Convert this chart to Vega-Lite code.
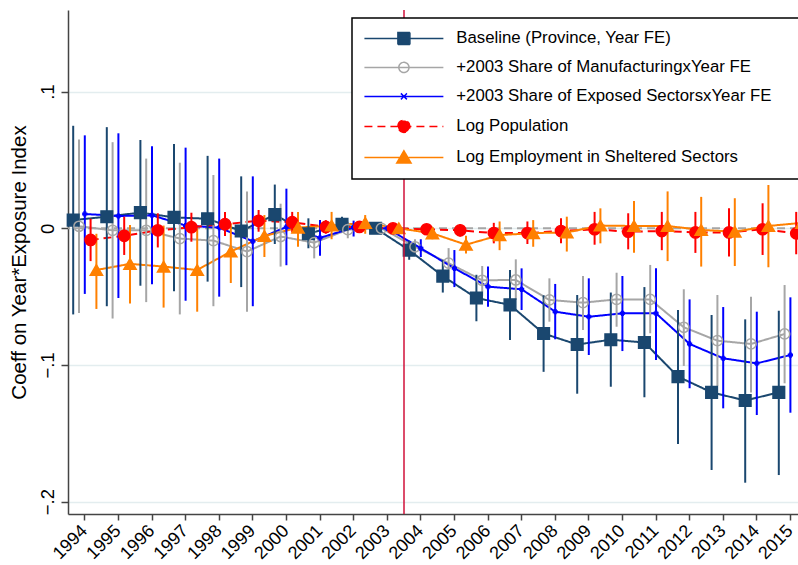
{
  "$schema": "https://vega.github.io/schema/vega-lite/v6.json",
  "width": 730,
  "height": 504,
  "autosize": {"type": "none"},
  "padding": {"left": 68, "top": 10, "right": 0, "bottom": 51},
  "config": {
    "font": "Liberation Sans",
    "view": {"stroke": null},
    "axis": {"labelColor": "black", "titleColor": "black", "domainColor": "#444", "tickColor": "#444", "domainWidth": 1.5, "tickWidth": 1.5},
    "axisX": {"labelAngle": -45, "labelAlign": "right", "labelBaseline": "middle", "labelFontSize": 18, "tickSize": 6, "labelPadding": 8, "labelOverlap": false, "grid": false, "title": null},
    "axisY": {"labelAngle": -90, "labelAlign": "center", "labelBaseline": "bottom", "labelFontSize": 18.5, "labelPadding": 4, "tickSize": 7, "titleFontSize": 20.5, "titleFontWeight": "normal", "titlePadding": 9, "grid": true, "gridColor": "#e3edef", "gridWidth": 1.5}
  },
  "data": {
    "values": [
      {"year": 1994, "series": "Baseline (Province, Year FE)", "est": 0.006, "lo": -0.063, "hi": 0.075},
      {"year": 1995, "series": "Baseline (Province, Year FE)", "est": 0.0085, "lo": -0.057, "hi": 0.074},
      {"year": 1996, "series": "Baseline (Province, Year FE)", "est": 0.0115, "lo": -0.042, "hi": 0.0646},
      {"year": 1997, "series": "Baseline (Province, Year FE)", "est": 0.008, "lo": -0.046, "hi": 0.0617},
      {"year": 1998, "series": "Baseline (Province, Year FE)", "est": 0.007, "lo": -0.039, "hi": 0.053},
      {"year": 1999, "series": "Baseline (Province, Year FE)", "est": -0.002, "lo": -0.043, "hi": 0.038},
      {"year": 2000, "series": "Baseline (Province, Year FE)", "est": 0.010, "lo": -0.0115, "hi": 0.032},
      {"year": 2001, "series": "Baseline (Province, Year FE)", "est": -0.004, "lo": -0.0146, "hi": 0.0073},
      {"year": 2002, "series": "Baseline (Province, Year FE)", "est": 0.003, "lo": -0.0025, "hi": 0.0085},
      {"year": 2003, "series": "Baseline (Province, Year FE)", "est": 0, "lo": 0, "hi": 0},
      {"year": 2004, "series": "Baseline (Province, Year FE)", "est": -0.016, "lo": -0.023, "hi": -0.009},
      {"year": 2005, "series": "Baseline (Province, Year FE)", "est": -0.035, "lo": -0.047, "hi": -0.023},
      {"year": 2006, "series": "Baseline (Province, Year FE)", "est": -0.051, "lo": -0.068, "hi": -0.034},
      {"year": 2007, "series": "Baseline (Province, Year FE)", "est": -0.056, "lo": -0.0817, "hi": -0.0305},
      {"year": 2008, "series": "Baseline (Province, Year FE)", "est": -0.077, "lo": -0.105, "hi": -0.049},
      {"year": 2009, "series": "Baseline (Province, Year FE)", "est": -0.085, "lo": -0.121, "hi": -0.0488},
      {"year": 2010, "series": "Baseline (Province, Year FE)", "est": -0.0815, "lo": -0.1159, "hi": -0.047},
      {"year": 2011, "series": "Baseline (Province, Year FE)", "est": -0.0835, "lo": -0.1236, "hi": -0.043},
      {"year": 2012, "series": "Baseline (Province, Year FE)", "est": -0.1085, "lo": -0.1578, "hi": -0.0598},
      {"year": 2013, "series": "Baseline (Province, Year FE)", "est": -0.120, "lo": -0.1768, "hi": -0.0634},
      {"year": 2014, "series": "Baseline (Province, Year FE)", "est": -0.126, "lo": -0.1861, "hi": -0.0666},
      {"year": 2015, "series": "Baseline (Province, Year FE)", "est": -0.120, "lo": -0.1805, "hi": -0.0603},
      {"year": 1994, "series": "+2003 Share of ManufacturingxYear FE", "est": 0.0015, "lo": -0.062, "hi": 0.065},
      {"year": 1995, "series": "+2003 Share of ManufacturingxYear FE", "est": -0.0015, "lo": -0.066, "hi": 0.063},
      {"year": 1996, "series": "+2003 Share of ManufacturingxYear FE", "est": -0.0015, "lo": -0.054, "hi": 0.051},
      {"year": 1997, "series": "+2003 Share of ManufacturingxYear FE", "est": -0.0075, "lo": -0.063, "hi": 0.048},
      {"year": 1998, "series": "+2003 Share of ManufacturingxYear FE", "est": -0.009, "lo": -0.057, "hi": 0.039},
      {"year": 1999, "series": "+2003 Share of ManufacturingxYear FE", "est": -0.017, "lo": -0.061, "hi": 0.027},
      {"year": 2000, "series": "+2003 Share of ManufacturingxYear FE", "est": -0.006, "lo": -0.028, "hi": 0.018},
      {"year": 2001, "series": "+2003 Share of ManufacturingxYear FE", "est": -0.0105, "lo": -0.022, "hi": -0.001},
      {"year": 2002, "series": "+2003 Share of ManufacturingxYear FE", "est": -0.001, "lo": -0.0073, "hi": 0.0048},
      {"year": 2003, "series": "+2003 Share of ManufacturingxYear FE", "est": 0, "lo": 0, "hi": 0},
      {"year": 2004, "series": "+2003 Share of ManufacturingxYear FE", "est": -0.0135, "lo": -0.019, "hi": -0.008},
      {"year": 2005, "series": "+2003 Share of ManufacturingxYear FE", "est": -0.0255, "lo": -0.037, "hi": -0.0145},
      {"year": 2006, "series": "+2003 Share of ManufacturingxYear FE", "est": -0.038, "lo": -0.0495, "hi": -0.0276},
      {"year": 2007, "series": "+2003 Share of ManufacturingxYear FE", "est": -0.0378, "lo": -0.0524, "hi": -0.0227},
      {"year": 2008, "series": "+2003 Share of ManufacturingxYear FE", "est": -0.0524, "lo": -0.0683, "hi": -0.0366},
      {"year": 2009, "series": "+2003 Share of ManufacturingxYear FE", "est": -0.0544, "lo": -0.0744, "hi": -0.0349},
      {"year": 2010, "series": "+2003 Share of ManufacturingxYear FE", "est": -0.052, "lo": -0.072, "hi": -0.0325},
      {"year": 2011, "series": "+2003 Share of ManufacturingxYear FE", "est": -0.052, "lo": -0.0768, "hi": -0.0268},
      {"year": 2012, "series": "+2003 Share of ManufacturingxYear FE", "est": -0.0724, "lo": -0.1007, "hi": -0.0446},
      {"year": 2013, "series": "+2003 Share of ManufacturingxYear FE", "est": -0.0822, "lo": -0.1154, "hi": -0.0488},
      {"year": 2014, "series": "+2003 Share of ManufacturingxYear FE", "est": -0.0846, "lo": -0.1202, "hi": -0.05},
      {"year": 2015, "series": "+2003 Share of ManufacturingxYear FE", "est": -0.0773, "lo": -0.1134, "hi": -0.0415},
      {"year": 1994, "series": "+2003 Share of Exposed SectorsxYear FE", "est": 0.0105, "lo": -0.048, "hi": 0.068},
      {"year": 1995, "series": "+2003 Share of Exposed SectorsxYear FE", "est": 0.009, "lo": -0.051, "hi": 0.0695},
      {"year": 1996, "series": "+2003 Share of Exposed SectorsxYear FE", "est": 0.0095, "lo": -0.041, "hi": 0.060},
      {"year": 1997, "series": "+2003 Share of Exposed SectorsxYear FE", "est": 0.002, "lo": -0.053, "hi": 0.059},
      {"year": 1998, "series": "+2003 Share of Exposed SectorsxYear FE", "est": 0.0005, "lo": -0.050, "hi": 0.051},
      {"year": 1999, "series": "+2003 Share of Exposed SectorsxYear FE", "est": -0.0095, "lo": -0.057, "hi": 0.038},
      {"year": 2000, "series": "+2003 Share of Exposed SectorsxYear FE", "est": 0.001, "lo": -0.027, "hi": 0.029},
      {"year": 2001, "series": "+2003 Share of Exposed SectorsxYear FE", "est": -0.007, "lo": -0.020, "hi": 0.006},
      {"year": 2002, "series": "+2003 Share of Exposed SectorsxYear FE", "est": 0.0005, "lo": -0.006, "hi": 0.0056},
      {"year": 2003, "series": "+2003 Share of Exposed SectorsxYear FE", "est": 0, "lo": 0, "hi": 0},
      {"year": 2004, "series": "+2003 Share of Exposed SectorsxYear FE", "est": -0.0146, "lo": -0.021, "hi": -0.008},
      {"year": 2005, "series": "+2003 Share of Exposed SectorsxYear FE", "est": -0.0293, "lo": -0.043, "hi": -0.0159},
      {"year": 2006, "series": "+2003 Share of Exposed SectorsxYear FE", "est": -0.0427, "lo": -0.0573, "hi": -0.028},
      {"year": 2007, "series": "+2003 Share of Exposed SectorsxYear FE", "est": -0.0446, "lo": -0.0598, "hi": -0.0293},
      {"year": 2008, "series": "+2003 Share of Exposed SectorsxYear FE", "est": -0.061, "lo": -0.0812, "hi": -0.0407},
      {"year": 2009, "series": "+2003 Share of Exposed SectorsxYear FE", "est": -0.0647, "lo": -0.0927, "hi": -0.0366},
      {"year": 2010, "series": "+2003 Share of Exposed SectorsxYear FE", "est": -0.0622, "lo": -0.0898, "hi": -0.0349},
      {"year": 2011, "series": "+2003 Share of Exposed SectorsxYear FE", "est": -0.0622, "lo": -0.0963, "hi": -0.0293},
      {"year": 2012, "series": "+2003 Share of Exposed SectorsxYear FE", "est": -0.0846, "lo": -0.117, "hi": -0.052},
      {"year": 2013, "series": "+2003 Share of Exposed SectorsxYear FE", "est": -0.0951, "lo": -0.1317, "hi": -0.0576},
      {"year": 2014, "series": "+2003 Share of Exposed SectorsxYear FE", "est": -0.0988, "lo": -0.1366, "hi": -0.061},
      {"year": 2015, "series": "+2003 Share of Exposed SectorsxYear FE", "est": -0.0927, "lo": -0.1349, "hi": -0.0505},
      {"year": 1994, "series": "Log Population", "est": -0.0085, "lo": -0.024, "hi": 0.007},
      {"year": 1995, "series": "Log Population", "est": -0.0055, "lo": -0.0195, "hi": 0.0085},
      {"year": 1996, "series": "Log Population", "est": -0.0015, "lo": -0.014, "hi": 0.011},
      {"year": 1997, "series": "Log Population", "est": 0.0008, "lo": -0.0098, "hi": 0.0114},
      {"year": 1998, "series": "Log Population", "est": 0.003, "lo": -0.0056, "hi": 0.012},
      {"year": 1999, "series": "Log Population", "est": 0.0055, "lo": -0.0025, "hi": 0.0134},
      {"year": 2000, "series": "Log Population", "est": 0.0045, "lo": -0.003, "hi": 0.012},
      {"year": 2001, "series": "Log Population", "est": 0.001, "lo": -0.004, "hi": 0.006},
      {"year": 2002, "series": "Log Population", "est": 0.001, "lo": -0.002, "hi": 0.004},
      {"year": 2003, "series": "Log Population", "est": 0, "lo": 0, "hi": 0},
      {"year": 2004, "series": "Log Population", "est": -0.0007, "lo": -0.004, "hi": 0.003},
      {"year": 2005, "series": "Log Population", "est": -0.0015, "lo": -0.006, "hi": 0.003},
      {"year": 2006, "series": "Log Population", "est": -0.0035, "lo": -0.011, "hi": 0.004},
      {"year": 2007, "series": "Log Population", "est": -0.0035, "lo": -0.0115, "hi": 0.005},
      {"year": 2008, "series": "Log Population", "est": -0.002, "lo": -0.011, "hi": 0.0073},
      {"year": 2009, "series": "Log Population", "est": -0.0007, "lo": -0.012, "hi": 0.012},
      {"year": 2010, "series": "Log Population", "est": -0.0025, "lo": -0.0154, "hi": 0.011},
      {"year": 2011, "series": "Log Population", "est": -0.002, "lo": -0.016, "hi": 0.012},
      {"year": 2012, "series": "Log Population", "est": -0.003, "lo": -0.018, "hi": 0.012},
      {"year": 2013, "series": "Log Population", "est": -0.003, "lo": -0.0207, "hi": 0.0146},
      {"year": 2014, "series": "Log Population", "est": -0.0007, "lo": -0.0195, "hi": 0.0183},
      {"year": 2015, "series": "Log Population", "est": -0.0037, "lo": -0.019, "hi": 0.012},
      {"year": 1994, "series": "Log Employment in Sheltered Sectors", "est": -0.0305, "lo": -0.059, "hi": -0.004},
      {"year": 1995, "series": "Log Employment in Sheltered Sectors", "est": -0.026, "lo": -0.055, "hi": 0.0024},
      {"year": 1996, "series": "Log Employment in Sheltered Sectors", "est": -0.028, "lo": -0.058, "hi": 0.002},
      {"year": 1997, "series": "Log Employment in Sheltered Sectors", "est": -0.0305, "lo": -0.061, "hi": 0.0},
      {"year": 1998, "series": "Log Employment in Sheltered Sectors", "est": -0.017, "lo": -0.040, "hi": 0.0037},
      {"year": 1999, "series": "Log Employment in Sheltered Sectors", "est": -0.0056, "lo": -0.021, "hi": 0.0097},
      {"year": 2000, "series": "Log Employment in Sheltered Sectors", "est": 0.0005, "lo": -0.0135, "hi": 0.012},
      {"year": 2001, "series": "Log Employment in Sheltered Sectors", "est": 0.002, "lo": -0.008, "hi": 0.012},
      {"year": 2002, "series": "Log Employment in Sheltered Sectors", "est": 0.004, "lo": -0.004, "hi": 0.0097},
      {"year": 2003, "series": "Log Employment in Sheltered Sectors", "est": 0, "lo": 0, "hi": 0},
      {"year": 2004, "series": "Log Employment in Sheltered Sectors", "est": -0.0037, "lo": -0.008, "hi": 0.001},
      {"year": 2005, "series": "Log Employment in Sheltered Sectors", "est": -0.012, "lo": -0.0185, "hi": -0.0055},
      {"year": 2006, "series": "Log Employment in Sheltered Sectors", "est": -0.005, "lo": -0.016, "hi": 0.005},
      {"year": 2007, "series": "Log Employment in Sheltered Sectors", "est": -0.0035, "lo": -0.0135, "hi": 0.006},
      {"year": 2008, "series": "Log Employment in Sheltered Sectors", "est": -0.003, "lo": -0.017, "hi": 0.0085},
      {"year": 2009, "series": "Log Employment in Sheltered Sectors", "est": 0.002, "lo": -0.011, "hi": 0.0146},
      {"year": 2010, "series": "Log Employment in Sheltered Sectors", "est": 0.0017, "lo": -0.0178, "hi": 0.020},
      {"year": 2011, "series": "Log Employment in Sheltered Sectors", "est": 0.0017, "lo": -0.024, "hi": 0.027},
      {"year": 2012, "series": "Log Employment in Sheltered Sectors", "est": -0.0012, "lo": -0.028, "hi": 0.023},
      {"year": 2013, "series": "Log Employment in Sheltered Sectors", "est": -0.0025, "lo": -0.0276, "hi": 0.022},
      {"year": 2014, "series": "Log Employment in Sheltered Sectors", "est": 0.0017, "lo": -0.0285, "hi": 0.0317},
      {"year": 2015, "series": "Log Employment in Sheltered Sectors", "est": 0.004, "lo": -0.024, "hi": 0.032}
    ]
  },
  "layer": [
    {
      "data": {"values": [{}]},
      "mark": {"type": "rule", "color": "#a6a6a6", "strokeWidth": 2, "strokeDash": [8, 5]},
      "encoding": {"y": {"datum": 0, "type": "quantitative", "scale": {"domain": [-0.209, 0.1597], "nice": false, "zero": false}}}
    },
    {
      "encoding": {
        "x": {
          "field": "year",
          "type": "ordinal",
          "bandPosition": 0,
          "title": null,
          "scale": {"type": "band", "range": [0, 739.2], "paddingInner": 0, "paddingOuter": 0}
        },
        "xOffset": {
          "field": "series",
          "type": "nominal",
          "scale": {
            "type": "point",
            "domain": ["Baseline (Province, Year FE)", "+2003 Share of ManufacturingxYear FE", "+2003 Share of Exposed SectorsxYear FE", "Log Population", "Log Employment in Sheltered Sectors"],
            "range": [5.2, 28.4],
            "padding": 0
          }
        },
        "y": {
          "field": "est",
          "type": "quantitative",
          "title": "Coeff on Year*Exposure Index",
          "scale": {"domain": [-0.209, 0.1597], "nice": false, "zero": false},
          "axis": {
            "values": [-0.2, -0.1, 0, 0.1],
            "labelExpr": "datum.value == 0 ? '0' : replace(format(datum.value, '.1f'), '0.', '.')"
          }
        }
      },
      "layer": [
        {
          "mark": {"type": "line", "strokeWidth": 2},
          "encoding": {
            "color": {
              "field": "series",
              "type": "nominal",
              "scale": {
                "domain": ["Baseline (Province, Year FE)", "+2003 Share of ManufacturingxYear FE", "+2003 Share of Exposed SectorsxYear FE", "Log Population", "Log Employment in Sheltered Sectors"],
                "range": ["#1a476f", "#a6a6a6", "#0000ff", "#ff0000", "#ff8000"]
              },
              "legend": {
                "orient": "none",
                "legendX": 284,
                "legendY": 8,
                "title": null,
                "strokeColor": "black",
                "fillColor": "white",
                "padding": 12,
                "labelFontSize": 16.8,
                "labelColor": "black",
                "labelLimit": 500,
                "symbolSize": 144,
                "symbolOffset": 31.5,
                "labelOffset": 44,
                "rowPadding": 11,
                "encode": {
                  "legend": {"update": {"strokeWidth": {"value": 1.5}}},
                  "symbols": {
                    "update": {
                      "shape": {"signal": "['M-6.58,0H6.58M-1,-1H1V1H-1ZM66,0h0.001', 'M-6.58,0H6.58M-0.85,0A0.85,0.85,0,1,1,0.85,0A0.85,0.85,0,1,1,-0.85,0ZM66,0h0.001', 'M-6.58,0H6.58M-0.5,-0.5L0.5,0.5M-0.5,0.5L0.5,-0.5M66,0h0.001', 'M-6.58,0H6.58M-1,0A1,1,0,1,1,1,0A1,1,0,1,1,-1,0ZM66,0h0.001', 'M-6.58,0H6.58M0,-1.1L1.2,0.95H-1.2ZM66,0h0.001'][datum.index]"},
                      "fill": {"signal": "['#1a476f', 'transparent', '#0000ff', '#ff0000', '#ff8000'][datum.index]"},
                      "stroke": {"signal": "['#1a476f', '#a6a6a6', '#0000ff', '#ff0000', '#ff8000'][datum.index]"},
                      "strokeDash": {"signal": "datum.index == 3 ? [8, 5] : [1, 0]"},
                      "strokeWidth": {"value": 1.5},
                      "size": {"value": 144},
                      "opacity": {"value": 1}
                    }
                  }
                }
              }
            },
            "strokeDash": {
              "field": "series",
              "type": "nominal",
              "legend": null,
              "scale": {"range": [[1, 0], [1, 0], [1, 0], [1, 0], [8, 5]]}
            }
          }
        },
        {
          "mark": {"type": "rule", "strokeWidth": 2},
          "encoding": {
            "y": {"field": "lo", "type": "quantitative"},
            "y2": {"field": "hi"},
            "stroke": {
              "field": "series",
              "type": "nominal",
              "legend": null,
              "scale": {"range": ["#0000ff", "#a6a6a6", "#1a476f", "#ff8000", "#ff0000"]}
            }
          }
        },
        {
          "mark": {"type": "point", "strokeWidth": 1.5, "opacity": 1},
          "encoding": {
            "shape": {
              "field": "series",
              "type": "nominal",
              "legend": null,
              "scale": {"range": ["cross", "circle", "square", "triangle-up", "circle"]}
            },
            "size": {
              "field": "series",
              "type": "nominal",
              "legend": null,
              "scale": {"type": "ordinal", "range": [14, 105, 135, 150, 125]}
            },
            "fill": {
              "field": "series",
              "type": "nominal",
              "legend": null,
              "scale": {"range": ["#0000ff", "transparent", "#1a476f", "#ff8000", "#ff0000"]}
            },
            "stroke": {
              "field": "series",
              "type": "nominal",
              "legend": null
            }
          }
        }
      ]
    },
    {
      "data": {"values": [{}]},
      "mark": {"type": "rule", "color": "#d0103a", "strokeWidth": 1.5},
      "encoding": {"x": {"datum": 2004, "type": "ordinal", "bandPosition": 0}}
    }
  ]
}
